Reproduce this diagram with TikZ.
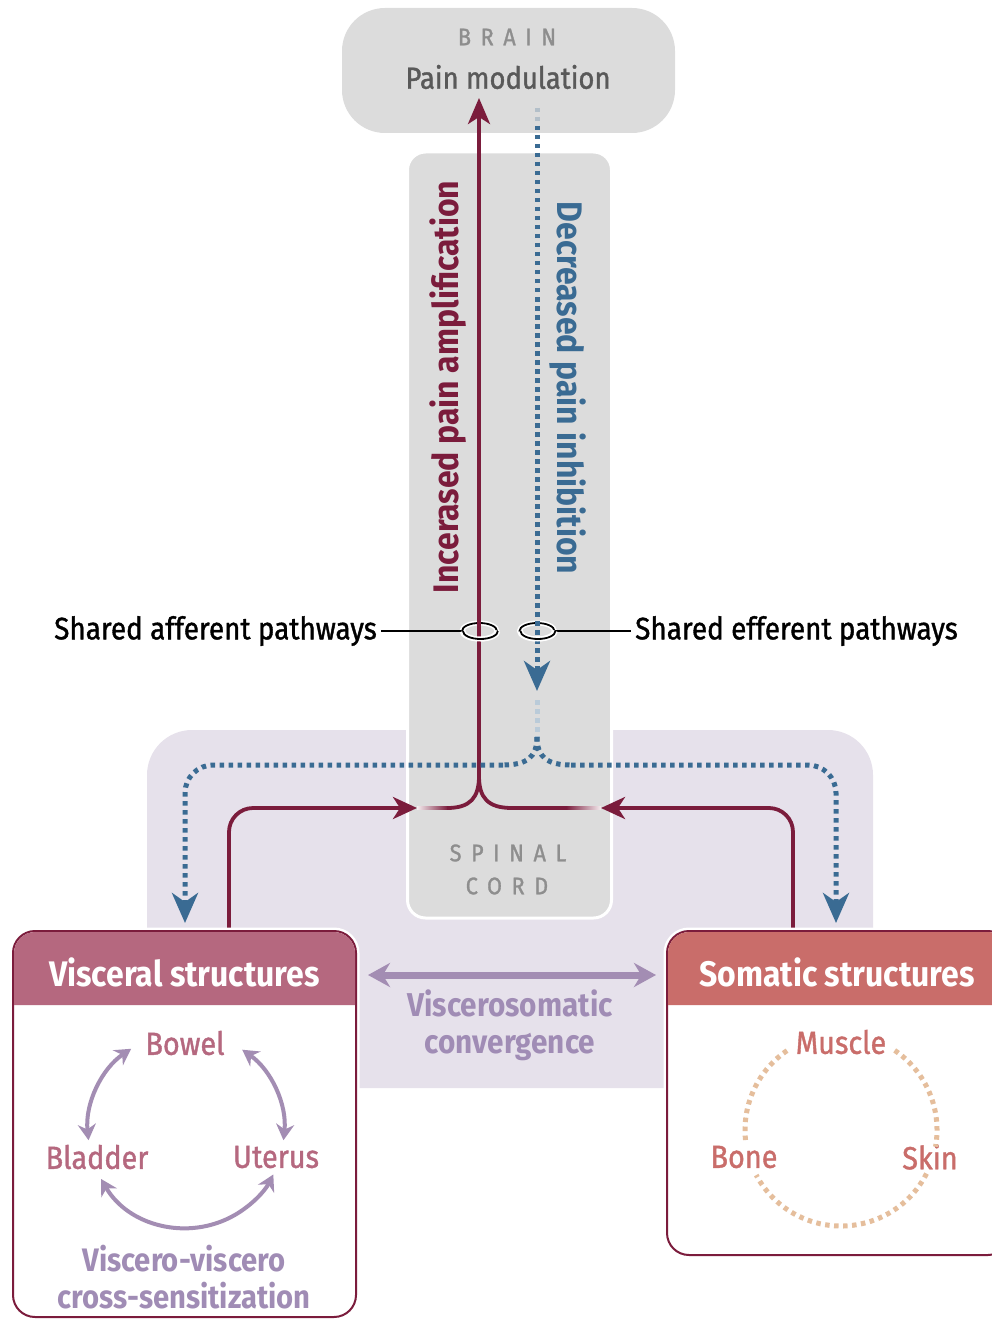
\documentclass[tikz,border=0pt]{standalone}
\usepackage{fontspec}
\setmainfont{Fira Sans}[FakeStretch=0.9]
\newfontfamily\medfont{Fira Sans}[FakeStretch=0.9, FakeBold=1.2]
\usepackage{tikz}
\usetikzlibrary{arrows.meta}
\usetikzlibrary{shapes}
\usetikzlibrary{calc}
\usetikzlibrary{positioning}

\definecolor{ampred}{HTML}{7B1C3C}
\definecolor{inhblue}{HTML}{3A6B93}
\definecolor{cordgray}{HTML}{DCDCDC}
\definecolor{lblgray}{HTML}{8E8E8E}
\definecolor{modgray}{HTML}{595959}
\definecolor{convlav}{HTML}{E6E1EB}
\definecolor{viscrose}{HTML}{B5687F}
\definecolor{somred}{HTML}{C96D6A}
\definecolor{convpurple}{HTML}{A38DB3}
\definecolor{convtext}{HTML}{A08CB5}
\definecolor{peach}{HTML}{E5BE9C}

\begin{document}
\begin{tikzpicture}[x=1pt,y=-1pt,
    amp/.style={draw=ampred, line width=3.8pt},
    inh/.style={draw=inhblue, line width=5pt, dash pattern=on 4.5pt off 4.5pt},
    ring/.style={ellipse, draw=black, line width=1.8pt, minimum width=35pt, minimum height=16pt,
      inner sep=0pt, preaction={draw=white, line width=5pt}},
    spaced/.style={inner sep=0pt, text=lblgray,
      font=\medfont\fontsize{24}{24}\selectfont\addfontfeatures{LetterSpace=40}},
    structbox/.style={draw=ampred, fill=white, line width=2pt, rounded corners=22pt,
      preaction={draw=white, line width=7pt}},
    headtxt/.style={inner sep=0pt, text=white, font=\bfseries\fontsize{35.5}{40}\selectfont},
    organ/.style={inner sep=0pt, font=\medfont\fontsize{32}{36}\selectfont},
    conv/.style={draw=convpurple, line width=4pt, {Stealth[length=16pt,width=18pt]}-{Stealth[length=16pt,width=18pt]}},
    somdot/.style={draw=peach, line width=5pt, dash pattern=on 4.5pt off 4.5pt}]
  \useasboundingbox (0,0) rectangle (992,1321);

  % background of the convergence zone, spinal cord and brain
  \fill[convlav, rounded corners=45pt] (147,730) rectangle (873,1088);
  \node[fill=cordgray, draw=white, line width=3pt, rounded corners=18pt,
    minimum width=204pt, minimum height=766pt] (cord) at (509.5,535) {};
  \node[fill=cordgray, rounded corners=43pt, minimum width=333pt, minimum height=125pt] (brain) at (508.5,70.5) {};

  \node[spaced] (brainlbl) at (507,37) {BRAIN};
  \node[inner sep=0pt, text=modgray, font=\medfont\fontsize{30.5}{36}\selectfont] (painmod) at (508,77) {Pain modulation};
  \node[spaced] (spinal) at (508,853) {SPINAL};
  \node[spaced] (cordlbl) at (507,886) {CORD};

  % shared pathways
  \node[ring] (affring) at (479.5,631) {};
  \node[ring] (effring) at (537,631) {};
  \node[anchor=east, inner sep=4pt, font=\medfont\fontsize{31}{36}\selectfont] (afftxt) at (381,631) {Shared afferent pathways};
  \node[anchor=west, inner sep=4pt, font=\medfont\fontsize{31}{36}\selectfont] (efftxt) at (631,631) {Shared efferent pathways};
  \draw[line width=1.5pt] (afftxt) -- (affring);
  \draw[line width=1.5pt] (effring) -- (efftxt);

  % amplification
  \coordinate (viscout) at (229,931);
  \coordinate (somout) at (793,931);
  \coordinate (merge) at (479,776);
  \coordinate (amptip) at (479,98);
  \draw[amp, rounded corners=24pt, -{Stealth[length=24pt,width=22pt,inset=7pt]}] (viscout) -- (229,808) -- (417,808);
  \draw[amp, rounded corners=24pt, -{Stealth[length=24pt,width=22pt,inset=7pt]}] (somout) -- (793,808) -- (601,808);
  \shade[left color=ampred!8, right color=ampred] (417,806.1) rectangle (448,809.9);
  \shade[left color=ampred, right color=ampred!8] (566,806.1) rectangle (601,809.9);
  \draw[amp] (447,808) .. controls (470,808) and (479,798) .. (merge);
  \draw[amp] (567,808) -- (512,808) .. controls (488,808) and (479,798) .. (merge);
  \draw[amp, -{Stealth[length=26pt,width=22pt,inset=7pt]}] (merge) -- (amptip);

  % inhibition
  \draw[inh, draw opacity=0.25] (537,108) -- (537,126);
  \draw[inh, -{Stealth[length=30pt,width=26pt,inset=9pt]}] (537,126) -- (537,691);
  \draw[inh, draw=inhblue!35] (537,700) -- (537,737);
  \draw[inh] (537,737) .. controls (537,757) and (527,765) .. (503,765);
  \draw[inh] (537,737) .. controls (537,757) and (547,765) .. (571,765);
  \draw[inh, rounded corners=28pt, -{Stealth[length=30pt,width=26pt,inset=9pt]}] (503,765) -- (185,765) -- (185,923);
  \draw[inh, rounded corners=28pt, -{Stealth[length=30pt,width=26pt,inset=9pt]}] (571,765) -- (836,765) -- (836,923);

  % front halves of the rings
  \draw[line width=1.8pt, preaction={draw=white, line width=5pt}] (affring.east) arc[start angle=0, end angle=180, x radius=17.5, y radius=8];
  \draw[line width=1.8pt, preaction={draw=white, line width=5pt}] (effring.east) arc[start angle=0, end angle=180, x radius=17.5, y radius=8];

  \node[rotate=90, inner sep=0pt, text=ampred, font=\bfseries\fontsize{35.5}{40}\selectfont] (amptxt) at (448,387) {Incerased pain amplification};
  \node[rotate=-90, inner sep=0pt, text=inhblue, font=\bfseries\fontsize{35.5}{40}\selectfont] (inhtxt) at (568,388) {Decreased pain inhibition};

  % visceral structures
  \node[structbox, minimum width=343pt, minimum height=386pt] (visc) at (184.5,1124) {};
  \fill[viscrose] (14,1005) [rounded corners=21pt] -- (14,932) -- (355,932) [sharp corners] -- (355,1005) -- cycle;
  \node[headtxt] (vischead) at (184.5,972) {Visceral structures};
  \node[organ, text=viscrose] (bowel) at (185,1043) {Bowel};
  \node[organ, text=viscrose] (bladder) at (97,1157) {Bladder};
  \node[organ, text=viscrose] (uterus) at (276,1157) {Uterus};
  \coordinate (vc) at (186,1130);
  \draw[conv] (vc) ++(-186:98) arc[start angle=-186, end angle=-124, radius=98];
  \draw[conv] (vc) ++(-55:98) arc[start angle=-55, end angle=6, radius=98];
  \draw[conv] (vc) ++(150:98) arc[start angle=150, end angle=27, radius=98];
  \node[inner sep=0pt, align=center, text=convtext, font=\bfseries\fontsize{32.5}{37}\selectfont] (vvtxt) at (184,1277) {Viscero-viscero\\cross-sensitization};

  % somatic structures
  \node[structbox, minimum width=343pt, minimum height=324pt] (som) at (838.5,1093) {};
  \fill[somred] (668,1005) [rounded corners=21pt] -- (668,932) -- (1009,932) [sharp corners] -- (1009,1005) -- cycle;
  \node[headtxt] (somhead) at (837,972) {Somatic structures};
  \node[organ, text=somred] (muscle) at (841,1042) {Muscle};
  \node[organ, text=somred] (bone) at (744,1157) {Bone};
  \node[organ, text=somred] (skin) at (930,1157) {Skin};
  \coordinate (sc) at (841,1130);
  \draw[somdot] (sc) ++(-56:96) arc[start angle=-56, end angle=10, radius=96];
  \draw[somdot] (sc) ++(27:96) arc[start angle=27, end angle=152, radius=96];
  \draw[somdot] (sc) ++(-186:96) arc[start angle=-186, end angle=-123, radius=96];

  % viscerosomatic convergence
  \coordinate (convl) at (368,975);
  \coordinate (convr) at (656,975);
  \draw[draw=convpurple, line width=7pt, {Stealth[length=22pt,width=24pt]}-{Stealth[length=22pt,width=24pt]}] (convl) -- (convr);
  \node[inner sep=0pt, align=center, text=convtext, font=\bfseries\fontsize{33}{37}\selectfont] (convtxt) at (510,1025) {Viscerosomatic\\convergence};
\end{tikzpicture}
\end{document}
